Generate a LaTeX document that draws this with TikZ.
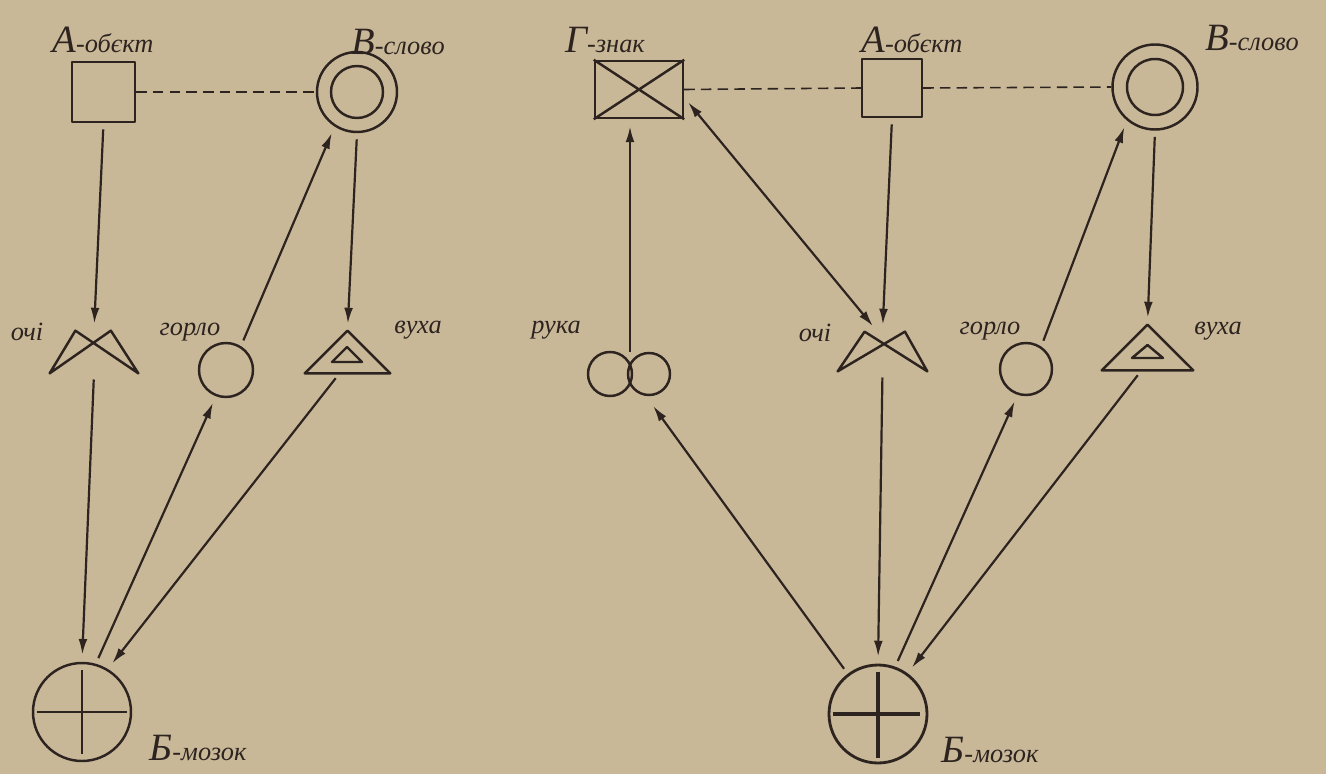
\documentclass[tikz,border=0pt]{standalone}
\usepackage{fontspec}
\setmainfont{Liberation Serif}
\usetikzlibrary{arrows.meta,calc}
\newdimen\pxu \pxu=0.02cm
\definecolor{paper}{RGB}{201,184,152}
\definecolor{ink}{RGB}{45,36,32}
\newcommand{\BigLetter}[1]{{\fontsize{22}{22}\selectfont #1}}
\begin{document}
\begin{tikzpicture}[x=0.02cm,y=-0.02cm,
  shp/.style={draw=ink, line width=1.4pt, line join=round},
  boxn/.style={shp, rectangle, inner sep=0},
  ring/.style={shp, circle, inner sep=0},
  area/.style={rectangle, inner sep=0},
  conn/.style={draw=ink, line width=1.25pt, shorten <=3.5pt, shorten >=4pt, -{Latex[length=9pt,width=5pt]}},
  dconn/.style={conn, {Latex[length=9pt,width=5pt]}-{Latex[length=9pt,width=5pt]}},
  dash line/.style={draw=ink, line width=0.9pt, dash pattern=on 6pt off 3.5pt},
  lab/.style={text=ink, font=\itshape\fontsize{15}{15}\selectfont, inner sep=0}]
\fill[paper] (0,0) rectangle (1326,774);
\useasboundingbox (0,0) rectangle (1326,774);

% ---------- left diagram ----------
\node[boxn, minimum width=63\pxu, minimum height=60\pxu] (A1) at (103.5,92) {};
\node[ring, minimum size=80\pxu] (B1) at (357,92) {};
\draw[shp] (B1.center) circle[radius=26\pxu];
\node[area, minimum width=88\pxu, minimum height=42\pxu] (E1) at (94,352) {};
\draw[shp] (E1.south west) -- ($(E1.north west)!0.29!(E1.north east)$) -- (E1.south east)
  -- ($(E1.north west)!0.69!(E1.north east)$) -- (E1.south west) -- cycle;
\node[ring, minimum size=54\pxu] (T1) at (226,370) {};
\node[area, minimum width=85\pxu, minimum height=42\pxu] (V1) at (347.5,352) {};
\draw[shp] (V1.south west) -- (V1.north) -- (V1.south east) -- cycle;
\draw[shp] (332,362) -- (347,347) -- (362,362) -- cycle;
\node[ring, minimum size=98\pxu] (M1) at (82,712) {};
\draw[shp] ($(M1.west)!0.05!(M1.east)$) -- ($(M1.west)!0.95!(M1.east)$);
\draw[shp] ($(M1.north)!0.08!(M1.south)$) -- ($(M1.north)!0.92!(M1.south)$);

\node[lab] (LA1) at (103,40) {\BigLetter{А}-обєкт};
\node[lab] (LB1) at (398,42) {\BigLetter{В}-слово};
\node[lab] (LE1) at (27,332) {очі};
\node[lab] (LT1) at (190,332) {горло};
\node[lab] (LV1) at (418,330) {вуха};
\node[lab] (LM1) at (198,748) {\BigLetter{Б}-мозок};

\draw[dash line] (A1.east) -- (B1.west);
\draw[conn] (A1.south) -- (E1.north);
\draw[conn] (T1.58) -- (B1.237);
\draw[conn] (B1.south) -- (V1.north);
\draw[conn] (E1.south) -- (M1.north);
\draw[conn] (M1.74) -- (T1.249);
\draw[conn] ($(V1.south)+(-8,0)$) -- (M1.59);

% ---------- right diagram ----------
\node[boxn, minimum width=88\pxu, minimum height=57\pxu] (G2) at (639,89.5) {};
\draw[shp] (G2.south west) -- (G2.north east) (G2.north west) -- (G2.south east);
\node[boxn, minimum width=60\pxu, minimum height=58\pxu] (A2) at (892,88) {};
\node[ring, minimum size=85\pxu] (B2) at (1155,87) {};
\draw[shp] (B2.center) circle[radius=28\pxu];
\node[ring, minimum size=44\pxu] (R2a) at (610,374) {};
\node[ring, minimum size=42\pxu] (R2b) at (649,374) {};
\coordinate (R2) at (630,358);
\node[area, minimum width=89\pxu, minimum height=39\pxu] (E2) at (882.5,351.5) {};
\draw[shp] (E2.south west) -- ($(E2.north west)!0.3!(E2.north east)$) -- (E2.south east)
  -- ($(E2.north west)!0.75!(E2.north east)$) -- (E2.south west) -- cycle;
\node[ring, minimum size=52\pxu] (T2) at (1026,369) {};
\node[area, minimum width=91\pxu, minimum height=45\pxu] (V2) at (1147.5,347.5) {};
\draw[shp] (V2.south west) -- (V2.north) -- (V2.south east) -- cycle;
\draw[shp] (1132,358) -- (1147.5,345) -- (1163,358) -- cycle;
\node[ring, minimum size=98\pxu, line width=1.6pt] (M2) at (878,714) {};
\draw[shp, line width=1.8pt] ($(M2.west)!0.05!(M2.east)$) -- ($(M2.west)!0.92!(M2.east)$);
\draw[shp, line width=1.8pt] ($(M2.north)!0.08!(M2.south)$) -- ($(M2.north)!0.94!(M2.south)$);

\node[lab] (LG2) at (605,40) {\BigLetter{Г}-знак};
\node[lab] (LA2) at (912,40) {\BigLetter{А}-обєкт};
\node[lab] (LB2) at (1252,38) {\BigLetter{В}-слово};
\node[lab] (LR2) at (556,330) {рука};
\node[lab] (LE2) at (815,333) {очі};
\node[lab] (LT2) at (990,331) {горло};
\node[lab] (LV2) at (1218,331) {вуха};
\node[lab] (LM2) at (990,750) {\BigLetter{Б}-мозок};

\draw[dash line] (G2.east) -- (A2.west);
\draw[dash line] (A2.east) -- (B2.west);
\draw[conn] (R2) -- (R2 |- G2.south);
\draw[dconn] ($(G2.east)+(0,8)$) -- ($(E2.north)+(-5,0)$);
\draw[conn] (A2.south) -- (E2.north);
\draw[conn] (T2.56) -- (B2.230);
\draw[conn] (B2.south) -- (V2.north);
\draw[conn] (E2.south) -- (M2.north);
\draw[conn] (M2.70) -- (T2.252);
\draw[conn] ($(V2.south)+(-6,0)$) -- (M2.54);
\draw[conn, shorten >=7pt] (M2.127) -- (R2b.262);
\end{tikzpicture}
\end{document}
